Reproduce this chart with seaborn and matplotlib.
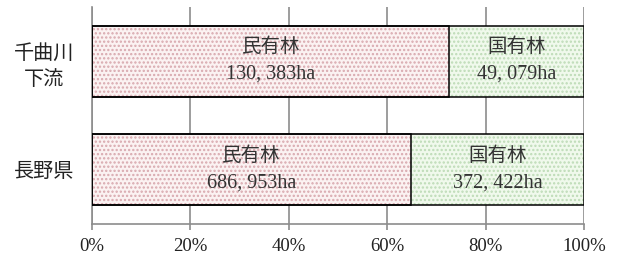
import matplotlib
matplotlib.use("Agg")
import matplotlib.pyplot as plt
import seaborn as sns
import pandas as pd
from matplotlib.patches import Rectangle
from matplotlib.ticker import PercentFormatter

# data
regions = ["千曲川\n下流", "長野県"]
private_ha = [130383, 686953]
national_ha = [49079, 372422]
private_label = "民有林"
national_label = "国有林"

sns.set_style("white")
plt.rcParams["font.family"] = ["Liberation Serif", "Noto Sans CJK JP", "DejaVu Sans"]
plt.rcParams["hatch.linewidth"] = 1.1

df = pd.DataFrame({"region": regions, "private": private_ha, "national": national_ha})
df["total"] = df["private"] + df["national"]
df["private_pct"] = df["private"] / df["total"] * 100
df["all_pct"] = 100.0

fig = plt.figure(figsize=(6.18, 2.62), dpi=100)
ax = fig.add_axes([92 / 618, 1 - 224 / 262, 492 / 618, 217 / 262])

# green full bar underneath, pink private share on top
sns.barplot(data=df, y="region", x="all_pct", orient="h", color="#effbea",
            width=0.65, ax=ax, zorder=2)
sns.barplot(data=df, y="region", x="private_pct", orient="h", color="#fdf0f0",
            width=0.65, ax=ax, zorder=2)

n = len(df)
for i, p in enumerate(ax.patches):
    p.set_hatch("....")
    if i < n:
        p.set_edgecolor("#bddbb6")
    else:
        p.set_edgecolor("#d8a8ae")
    p.set_linewidth(0)
    ax.add_patch(Rectangle(p.get_xy(), p.get_width(), p.get_height(),
                           fill=False, edgecolor="black", linewidth=1.1, zorder=3))

# segment labels
cjk_size = 14
num_size = 14.5
for i, row in df.iterrows():
    pp = row["private_pct"]
    centers = [pp / 2, pp + (100 - pp) / 2]
    names = [private_label, national_label]
    vals = [row["private"], row["national"]]
    for cx, name, v in zip(centers, names, vals):
        ax.text(cx, i - 0.13, name, ha="center", va="center", fontsize=cjk_size,
                color="#333333", zorder=4)
        ax.text(cx, i + 0.12, f"{v:,}".replace(",", ", ") + "ha", ha="center", va="center",
                fontsize=num_size, color="#333333", zorder=4)

ax.set_xlim(0, 100)
ax.set_ylim(1.5, -0.5)
ax.set_xticks([0, 20, 40, 60, 80, 100])
ax.xaxis.set_major_formatter(PercentFormatter(decimals=0))
ax.grid(axis="x", color="#8c8c8c", linewidth=1.2, zorder=0)
ax.set_axisbelow(True)
ax.set_xlabel("")
ax.set_ylabel("")
for s in ["top", "right"]:
    ax.spines[s].set_visible(False)
for s in ["left", "bottom"]:
    ax.spines[s].set_color("#8c8c8c")
    ax.spines[s].set_linewidth(1.2)
ax.tick_params(axis="x", bottom=True, length=4, width=1.2, color="#8c8c8c", labelsize=13.5,
               pad=6, labelcolor="#222222")
ax.tick_params(axis="y", left=False, labelsize=14.5, pad=31, labelcolor="#222222")
for lab in ax.get_yticklabels():
    lab.set_horizontalalignment("center")
    lab.set_linespacing(1.5)

fig.savefig("out.png", dpi=100)
